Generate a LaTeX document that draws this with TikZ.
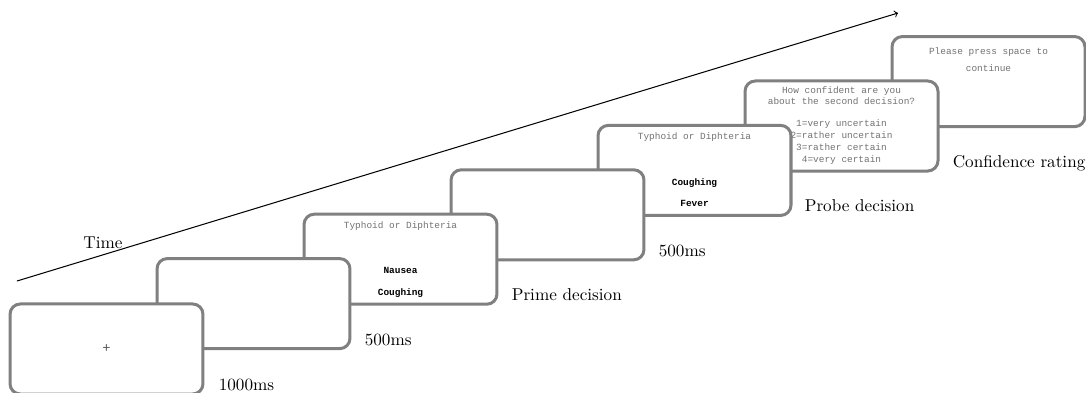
\documentclass[tikz,border=0pt]{standalone}
\usepackage{fontspec}
\newfontfamily\courfont{Liberation Mono}
\usetikzlibrary{calc}
\definecolor{cardgray}{RGB}{128,128,128}
\begin{document}
\begin{tikzpicture}[x=0.583pt,y=-0.583pt,
  card/.style={draw=cardgray, line width=1.75pt, rounded corners=6pt, fill=white,
    minimum width=112.5pt, minimum height=52.5pt, inner sep=0pt},
  scr/.style={font=\courfont\fontsize{5.5}{6.5}\selectfont, text=black!55, inner sep=0pt,
    text height=3.6pt, text depth=1.1pt},
  scrb/.style={font=\courfont\bfseries\fontsize{5.5}{6.5}\selectfont, text=black, inner sep=0pt,
    text height=3.6pt, text depth=1.1pt},
  lab/.style={anchor=base west, inner sep=0pt}]
\useasboundingbox (0,0) rectangle (1086,392);

% time arrow
\coordinate (tstart) at (17,281);
\coordinate (tend) at (898,13);
\draw[->, line width=0.6pt] (tstart) -- (tend);
\node (time) at (103,243) {Time};

% card 7: confidence continue
\node[card] (b6) at (988.5,81.6) {};
\node[scr] (b6a) at ($(b6.center)+(0,-29)$) {Please press space to};
\node[scr] (b6b) at ($(b6.center)+(0,-12.3)$) {continue};

% card 6: confidence rating
\node[card] (b5) at (841.5,126) {};
\node[scr] (b5a) at ($(b5.center)+(0,-34.3)$) {How confident are you};
\node[scr] (b5b) at ($(b5.center)+(0,-23.3)$) {about the second decision?};
\node[scr] (b5c) at ($(b5.center)+(0,-2)$) {1=very uncertain};
\node[scr] (b5d) at ($(b5.center)+(0,10.7)$) {2=rather uncertain};
\node[scr] (b5e) at ($(b5.center)+(0,22)$) {3=rather certain};
\node[scr] (b5f) at ($(b5.center)+(0,34)$) {4=very certain};
\node[lab] (l5) at ($(b5.south east)+(13,-5)$) {Confidence rating};

% card 5: probe decision
\node[card] (b4) at (694.5,170.4) {};
\node[scr] (b4a) at ($(b4.center)+(0,-33)$) {Typhoid or Diphteria};
\node[scrb] (b4b) at ($(b4.center)+(0,12.6)$) {Coughing};
\node[scrb] (b4c) at ($(b4.center)+(0,34)$) {Fever};
\node[lab] (l4) at ($(b4.south east)+(12,-5)$) {Probe decision};

% card 4: blank 500ms
\node[card] (b3) at (547.5,214.8) {};
\node[lab] (l3) at ($(b3.south east)+(13,-5)$) {500ms};

% card 3: prime decision
\node[card] (b2) at (400.5,259.2) {};
\node[scr] (b2a) at ($(b2.center)+(0,-33)$) {Typhoid or Diphteria};
\node[scrb] (b2b) at ($(b2.center)+(0,12)$) {Nausea};
\node[scrb] (b2c) at ($(b2.center)+(0,34)$) {Coughing};
\node[lab] (l2) at ($(b2.south east)+(13,-5)$) {Prime decision};

% card 2: blank 500ms
\node[card] (b1) at (253.5,303.6) {};
\node[lab] (l1) at ($(b1.south east)+(13,-5)$) {500ms};

% card 1: fixation
\node[card] (b0) at (106.5,349) {};
\node[font=\courfont\fontsize{8}{9}\selectfont, text=black!65, inner sep=0pt] (b0a) at (b0.center) {+};
\node[lab] (l0) at ($(b0.south east)+(14,-5)$) {1000ms};
\end{tikzpicture}
\end{document}
